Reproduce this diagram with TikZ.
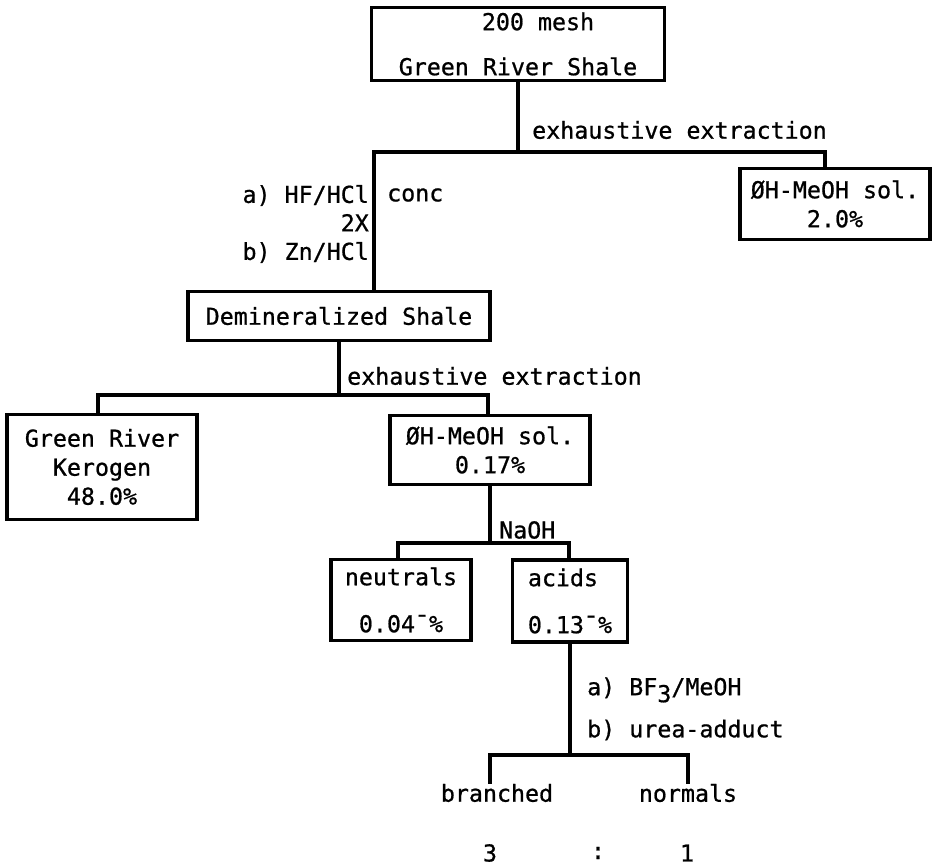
\documentclass[tikz,border=0pt]{standalone}
\usepackage{fontspec}
\setmonofont[FakeBold=0.8]{DejaVu Sans Mono}
\begin{document}
\begin{tikzpicture}[x=1pt,y=-1pt,
    font=\ttfamily\fontsize{23.3}{29}\selectfont,
    box/.style={draw,line width=3.4pt,inner sep=0pt,align=center},
    link/.style={line width=3.4pt},
    txt/.style={inner sep=0pt}]
    \useasboundingbox (0,0) rectangle (940,866);

    % Define the boxes
    \node[box,minimum width=293pt,minimum height=73pt] (shale) at (518,44)
        {\hspace*{40pt}200 mesh\\[16pt]Green River Shale};
    \node[box,minimum width=190pt,minimum height=71pt] (sol1) at (835,204)
        {ØH-MeOH sol.\\2.0\%};
    \node[box,minimum width=302pt,minimum height=49pt] (demin) at (339,316)
        {Demineralized Shale};
    \node[box,minimum width=190pt,minimum height=105pt] (kerogen) at (102,467)
        {Green River\\Kerogen\\48.0\%};
    \node[box,minimum width=200pt,minimum height=69pt] (sol2) at (490,450)
        {ØH-MeOH sol.\\0.17\%};
    \node[box,minimum width=140pt,minimum height=81pt] (neutrals) at (401,600)
        {neutrals\\[18pt]0.04¯\%};
    \node[box,align=left,minimum width=115pt,minimum height=82pt] (acids) at (570,601)
        {acids\\[18pt]0.13¯\%};

    % Define the end products
    \node[txt] (branched) at (497,793) {branched};
    \node[txt] (normals) at (688,793) {normals};
    \node[txt] (three) at (490,853) {3};
    \node[txt] (colon) at (598,853) {:};
    \node[txt] (one) at (687,853) {1};

    % Define the junctions
    \coordinate (j1l) at (374,152);
    \coordinate (j1r) at (825,152);
    \coordinate (j2l) at (98,395);
    \coordinate (j2r) at (488,395);
    \coordinate (j3l) at (398,543);
    \coordinate (j3r) at (569,543);
    \coordinate (j4l) at (490,755);
    \coordinate (j4r) at (688,755);

    % Draw the connectors
    \draw[link] (shale.south) -- (shale.south |- j1l);
    \draw[link] (demin.north -| j1l) -- (j1l) -- (j1r) -- (sol1.north -| j1r);
    \draw[link] (demin.south) -- (demin.south |- j2l);
    \draw[link] (kerogen.north -| j2l) -- (j2l) -- (j2r) -- (sol2.north -| j2r);
    \draw[link] (sol2.south) -- (sol2.south |- j3l);
    \draw[link] (neutrals.north -| j3l) -- (j3l) -- (j3r) -- (acids.north -| j3r);
    \draw[link] (acids.south) -- (acids.south |- j4l);
    \draw[link] (branched.north -| j4l) -- (j4l) -- (j4r) -- (normals.north -| j4r);

    % Add the reagents
    \node[txt,anchor=west] (extr1) at (532,130) {exhaustive extraction};
    \node[txt,anchor=east,align=right,font=\ttfamily\fontsize{23.3}{28.5}\selectfont]
        (acid) at (369,224) {a) HF/HCl\\2X~\\b) Zn/HCl};
    \node[txt,anchor=west] (conc) at (387,195) {conc};
    \node[txt,anchor=west] (extr2) at (347,376) {exhaustive extraction};
    \node[txt,anchor=west] (naoh) at (499,530) {NaOH};
    \node[txt,anchor=west] (bf) at (587,690) {a) BF\raisebox{-7pt}{3}/MeOH};
    \node[txt,anchor=west] (urea) at (587,730) {b) urea-adduct};
\end{tikzpicture}
\end{document}
